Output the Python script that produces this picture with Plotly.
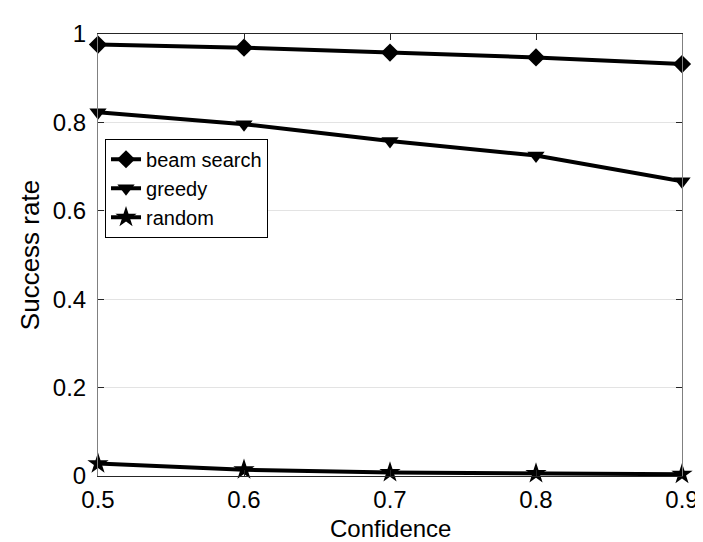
import plotly.graph_objects as go

confidence = [0.5, 0.6, 0.7, 0.8, 0.9]
beam_search = [0.976, 0.969, 0.958, 0.947, 0.932]
greedy = [0.823, 0.796, 0.758, 0.725, 0.667]
random_ = [0.028, 0.014, 0.008, 0.006, 0.004]
x_ticks = [0.5, 0.6, 0.7, 0.8, 0.9]
x_ticklabels = ["0.5", "0.6", "0.7", "0.8", "0.9"]
y_ticks = [0, 0.2, 0.4, 0.6, 0.8, 1]
y_ticklabels = ["0", "0.2", "0.4", "0.6", "0.8", "1"]
x_title = "Confidence"
y_title = "Success rate"

FONT = "Liberation Sans, Arial, Helvetica, sans-serif"

fig = go.Figure()
series = [
    ("beam search", beam_search, "diamond", 14),
    ("greedy", greedy, "triangle-down", 15),
    ("random", random_, "star", 16),
]
for name, vals, sym, size in series:
    fig.add_trace(go.Scatter(
        x=confidence, y=vals, name=name, mode="lines+markers",
        line=dict(color="black", width=4),
        marker=dict(symbol=sym, size=size, color="black"),
        cliponaxis=False,
    ))

fig.update_layout(
    width=703, height=542,
    margin=dict(l=90, r=20, t=13, b=74),
    paper_bgcolor="white", plot_bgcolor="white",
    font=dict(family=FONT, color="black", size=24),
    showlegend=True,
    legend=dict(
        x=0.012, y=0.763, xanchor="left", yanchor="top",
        bgcolor="white", bordercolor="black", borderwidth=1,
        font=dict(size=20, family=FONT, color="black"),
        tracegroupgap=0, itemwidth=30,
    ),
    xaxis=dict(
        range=[0.5, 0.9], tickvals=x_ticks, ticktext=x_ticklabels,
        showgrid=False, zeroline=False,
        showline=True, linecolor="#262626", linewidth=1, mirror="ticks",
        ticks="inside", ticklen=6, tickcolor="#262626",
        ticklabelstandoff=2, ticklabeloverflow="allow",
        tickfont=dict(size=24, family=FONT, color="black"),
    ),
    yaxis=dict(
        range=[0, 1], tickvals=y_ticks, ticktext=y_ticklabels,
        showgrid=True, gridcolor="#e3e3e3", gridwidth=1, zeroline=False,
        showline=True, linecolor="#808080", linewidth=1, mirror="ticks",
        ticks="inside", ticklen=6, tickcolor="#262626",
        ticklabelstandoff=6, ticklabeloverflow="allow",
        tickfont=dict(size=24, family=FONT, color="black"),
        title=dict(text=y_title, font=dict(size=26, family=FONT, color="black"), standoff=5),
    ),
    annotations=[dict(
        text=x_title, xref="paper", yref="paper", x=0.5, y=0,
        xanchor="center", yanchor="top", yshift=-37, showarrow=False,
        font=dict(size=24, family=FONT, color="black"),
    )],
)

fig.write_html("out.html")
